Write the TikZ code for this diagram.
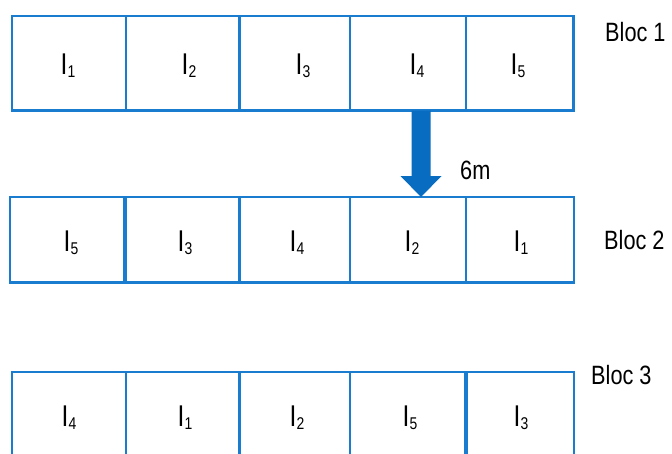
\documentclass[tikz,border=0pt]{standalone}
\usepackage{fontspec}
\usepackage{graphicx}
\setmainfont{Liberation Sans}
\usetikzlibrary{calc}
\definecolor{cellblue}{RGB}{26,124,206}
\definecolor{arrowblue}{RGB}{8,108,192}
% condensed sans, close to a narrow face
\newcommand{\nar}[1]{\scalebox{0.82}[1]{#1}}
\newcommand{\itm}[1]{\nar{I}\raisebox{-3.6pt}{\fontsize{17}{17}\selectfont\nar{#1}}}
\begin{document}
\begin{tikzpicture}[x=1pt,y=-1pt,
  cell/.style={draw=cellblue,line width=2.4pt,fill=none,inner sep=0pt,outer sep=0pt},
  lab/.style={anchor=base,inner sep=0pt,font=\fontsize{30}{30}\selectfont},
  bloc/.style={anchor=base west,inner sep=0pt,font=\fontsize{26.5}{26.5}\selectfont}]
\useasboundingbox (0,0) rectangle (672,453);
\fill[white] (0,0) rectangle (672,453);

% row 1
\node[cell,minimum width=114pt,minimum height=94.5pt] (a1) at (69,63.25) {};
\node[cell,minimum width=113.5pt,minimum height=94.5pt] (a2) at (182.75,63.25) {};
\node[cell,minimum width=110.5pt,minimum height=94.5pt] (a3) at (294.75,63.25) {};
\node[cell,minimum width=116pt,minimum height=94.5pt] (a4) at (408,63.25) {};
\node[cell,minimum width=107.5pt,minimum height=94.5pt] (a5) at (519.75,63.25) {};
% row 2
\node[cell,minimum width=115pt,minimum height=85.5pt] (b1) at (67.5,239.75) {};
\node[cell,minimum width=114.5pt,minimum height=85.5pt] (b2) at (182.25,239.75) {};
\node[cell,minimum width=110.5pt,minimum height=85.5pt] (b3) at (294.75,239.75) {};
\node[cell,minimum width=116pt,minimum height=85.5pt] (b4) at (408,239.75) {};
\node[cell,minimum width=108pt,minimum height=85.5pt] (b5) at (520,239.75) {};
\draw[cellblue,line width=3.6pt] (b1.north east) -- (b1.south east);
% row 3
\node[cell,minimum width=114pt,minimum height=86pt] (c1) at (69,415) {};
\node[cell,minimum width=113.5pt,minimum height=86pt] (c2) at (182.75,415) {};
\node[cell,minimum width=110.5pt,minimum height=86pt] (c3) at (294.75,415) {};
\node[cell,minimum width=116pt,minimum height=86pt] (c4) at (408,415) {};
\node[cell,minimum width=108pt,minimum height=86pt] (c5) at (520,415) {};
\draw[cellblue,line width=3.6pt] (c4.north east) -- (c4.south east);

% labels, row 1
\node[lab] (la1) at (68,74) {\itm{1}};
\node[lab] (la2) at (189,74) {\itm{2}};
\node[lab] (la3) at (303,74) {\itm{3}};
\node[lab] (la4) at (417,74) {\itm{4}};
\node[lab] (la5) at (518,74) {\itm{5}};
% labels, row 2
\node[lab] (lb1) at (71,251) {\itm{5}};
\node[lab] (lb2) at (185,251) {\itm{3}};
\node[lab] (lb3) at (297,251) {\itm{4}};
\node[lab] (lb4) at (412,251) {\itm{2}};
\node[lab] (lb5) at (521,251) {\itm{1}};
% labels, row 3
\node[lab] (lc1) at (69,426) {\itm{4}};
\node[lab] (lc2) at (185,426) {\itm{1}};
\node[lab] (lc3) at (297,426) {\itm{2}};
\node[lab] (lc4) at (410,426) {\itm{5}};
\node[lab] (lc5) at (521,426) {\itm{3}};

% block names
\node[bloc] (n1) at (605,41.5) {\nar{Bloc 1}};
\node[bloc] (n2) at (604,249.5) {\nar{Bloc 2}};
\node[bloc] (n3) at (591,384.5) {\nar{Bloc 3}};

% move arrow from row 1 to row 2
\coordinate (at) at ($(a4.south)+(13,0)$);
\coordinate (ab) at ($(b4.north)+(13,0)$);
\fill[arrowblue] ($(at)+(-9.5,0)$) -- ($(at)+(9.5,0)$) -- ($(ab)+(9.5,-21)$)
  -- ($(ab)+(20.5,-21)$) -- (ab) -- ($(ab)+(-20.5,-21)$) -- ($(ab)+(-9.5,-21)$) -- cycle;
\node[bloc] (dist) at (460,179) {\nar{6m}};
\end{tikzpicture}
\end{document}
